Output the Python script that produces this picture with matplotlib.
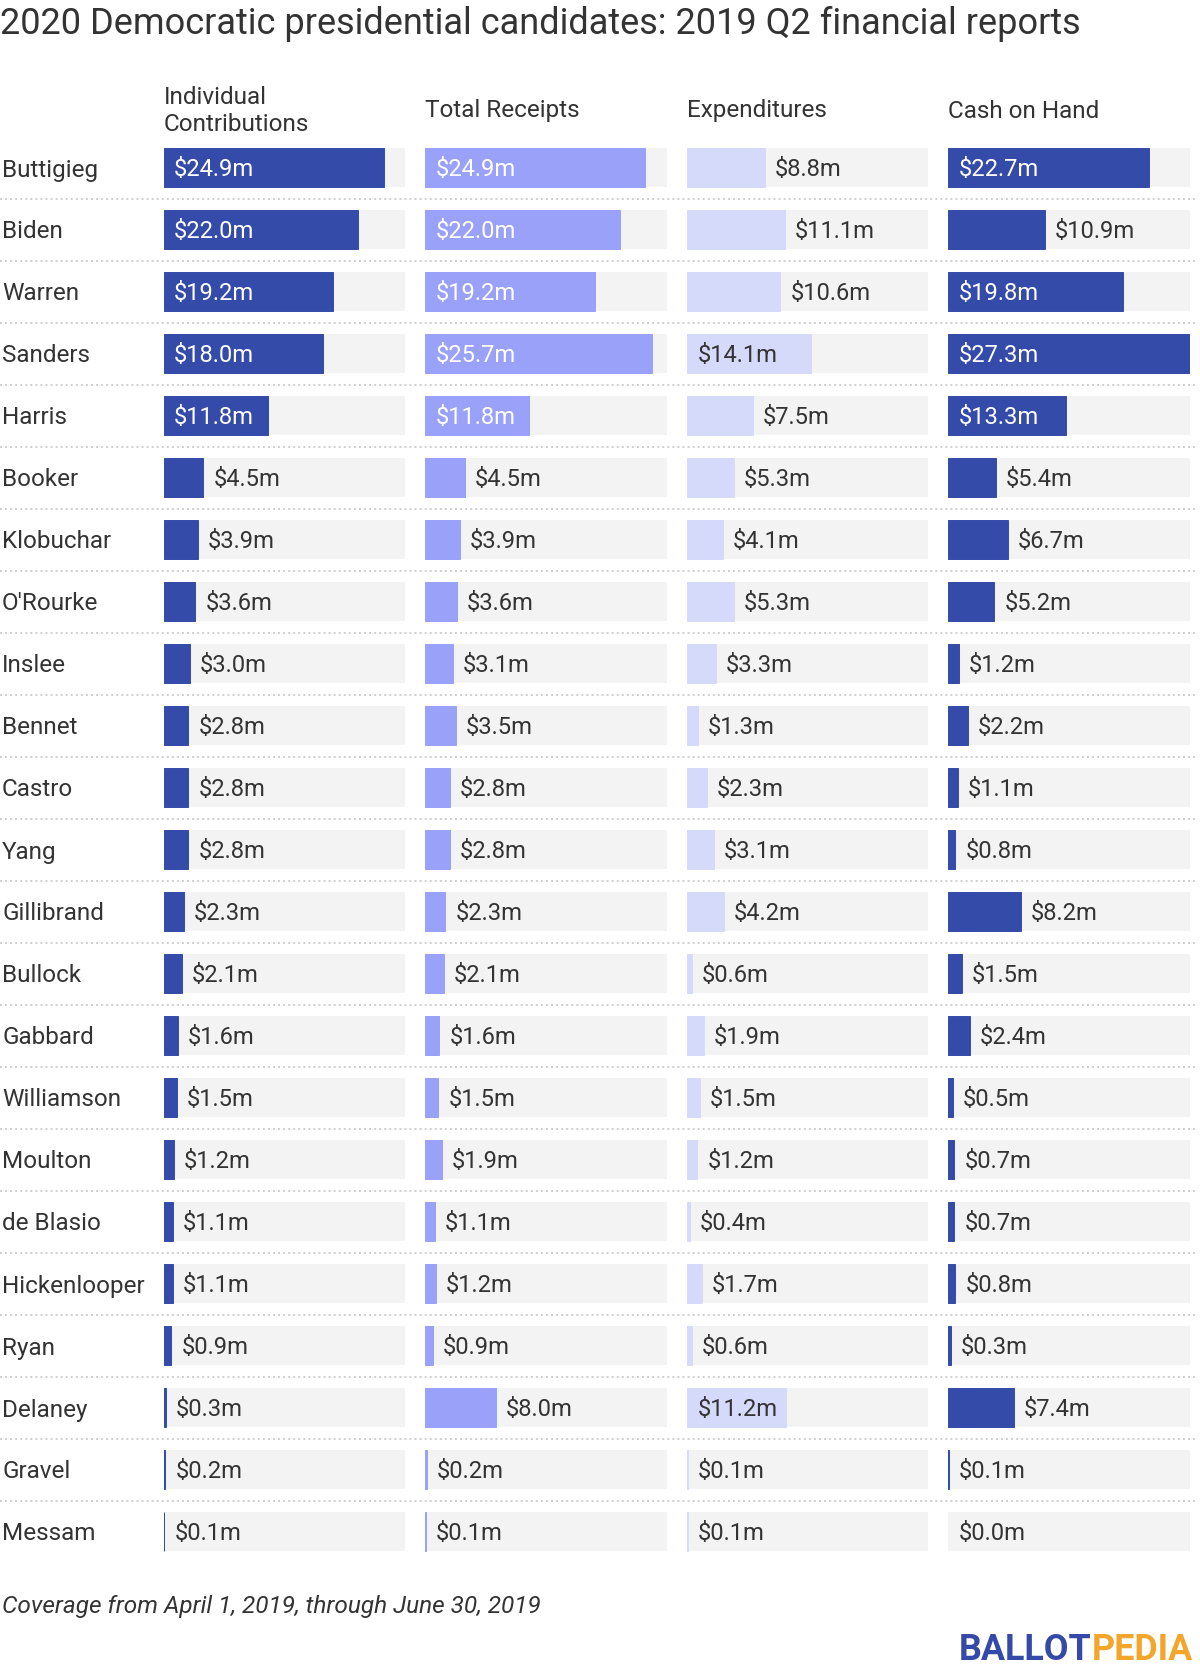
import matplotlib
matplotlib.use("Agg")
import matplotlib.pyplot as plt

plt.rcParams['font.family'] = ['Roboto', 'DejaVu Sans']

candidates = ["Buttigieg", "Biden", "Warren", "Sanders", "Harris", "Booker",
              "Klobuchar", "O'Rourke", "Inslee", "Bennet", "Castro", "Yang",
              "Gillibrand", "Bullock", "Gabbard", "Williamson", "Moulton",
              "de Blasio", "Hickenlooper", "Ryan", "Delaney", "Gravel", "Messam"]

individual = [24.9, 22.0, 19.2, 18.0, 11.8, 4.5, 3.9, 3.6, 3.0, 2.8, 2.8, 2.8,
              2.3, 2.1, 1.6, 1.5, 1.2, 1.1, 1.1, 0.9, 0.3, 0.2, 0.1]
receipts = [24.9, 22.0, 19.2, 25.7, 11.8, 4.5, 3.9, 3.6, 3.1, 3.5, 2.8, 2.8,
            2.3, 2.1, 1.6, 1.5, 1.9, 1.1, 1.2, 0.9, 8.0, 0.2, 0.1]
expenditures = [8.8, 11.1, 10.6, 14.1, 7.5, 5.3, 4.1, 5.3, 3.3, 1.3, 2.3, 3.1,
                4.2, 0.6, 1.9, 1.5, 1.2, 0.4, 1.7, 0.6, 11.2, 0.1, 0.1]
cash = [22.7, 10.9, 19.8, 27.3, 13.3, 5.4, 6.7, 5.2, 1.2, 2.2, 1.1, 0.8,
        8.2, 1.5, 2.4, 0.5, 0.7, 0.7, 0.8, 0.3, 7.4, 0.1, 0.0]

headers = [["Individual", "Contributions"], ["Total Receipts"], ["Expenditures"], ["Cash on Hand"]]
columns = [individual, receipts, expenditures, cash]

DARK = "#344ba9"
colors = [DARK, "#99a1f8", "#d5dafb", DARK]
inside_colors = ["white", "white", "#333333", "white"]
TEXT = "#333333"
BG = "#f3f3f3"

W, H = 1200, 1672
fig = plt.figure(figsize=(W / 100, H / 100), dpi=100)

n = len(candidates)
pitch = 62.0
top_px = 167.5 - pitch / 2
bot_px = top_px + pitch * n
ax_bottom = 1 - bot_px / H
ax_height = (bot_px - top_px) / H

xmax = max(max(c) for c in columns)

# background axes: row names + dotted separators
bg = fig.add_axes([0, ax_bottom, 1, ax_height])
bg.set_xlim(0, W)
bg.set_ylim(n - 0.5, -0.5)
bg.axis('off')
for i in range(n - 1):
    bg.plot([0, 1198], [i + 0.5, i + 0.5], color="#cfcfcf", lw=1.4,
            ls=(0, (1, 1.6)))
for i, name in enumerate(candidates):
    bg.text(2, i, name, fontsize=17.5, color=TEXT, va='center_baseline', ha='left')

col_left = 163.5
col_step = 261.6
col_w = 241.5

for j, vals in enumerate(columns):
    x0 = col_left + col_step * j
    ax = fig.add_axes([x0 / W, ax_bottom, col_w / W, ax_height])
    ax.set_xlim(0, xmax)
    ax.set_ylim(n - 0.5, -0.5)
    ax.axis('off')
    ypos = list(range(n))
    ax.barh(ypos, [xmax] * n, height=0.635, color=BG, lw=0)
    edges = [colors[j] if v > 0 else 'none' for v in vals]
    ax.barh(ypos, vals, height=0.635, color=colors[j], edgecolor=edges, lw=0.7)
    for i, v in enumerate(vals):
        lab = f"${v:.1f}m"
        if v >= 11.2:
            ax.annotate(lab, (0, i), xytext=(7.6, 0), textcoords='offset points',
                        fontsize=17.1, color=inside_colors[j], va='center_baseline')
        else:
            ax.annotate(lab, (v, i), xytext=(7.2, 0), textcoords='offset points',
                        fontsize=17.1, color=TEXT, va='center_baseline')

    hdr = headers[j]
    if len(hdr) == 2:
        fig.text(x0 / W, 1 - 104.5 / H, hdr[0], fontsize=17.5, color=TEXT, va='baseline')
        fig.text(x0 / W, 1 - 131.2 / H, hdr[1], fontsize=17.5, color=TEXT, va='baseline')
    else:
        fig.text(x0 / W, 1 - 117.5 / H, hdr[0], fontsize=17.5, color=TEXT, va='baseline')

fig.text(0.0, 1 - 34 / H, "2020 Democratic presidential candidates: 2019 Q2 financial reports",
         fontsize=26, color=TEXT, va='baseline', ha='left')

fig.text(2 / W, 1 - 1613 / H, "Coverage from April 1, 2019, through June 30, 2019",
         fontsize=17.6, color=TEXT, style='italic', va='baseline', ha='left')

pedia = fig.text(1193 / W, 1 - 1660 / H, "PEDIA", fontsize=25.8, fontweight='bold',
                 color="#f4a52c", va='baseline', ha='right')
ballot = fig.add_artist(plt.Annotation("BALLOT", xy=(0, 0), xycoords=pedia, ha='right',
                                       va='bottom', fontsize=25.8, fontweight='bold',
                                       color="#3449a8", annotation_clip=False))

fig.savefig("out.png", dpi=100, facecolor="white")
